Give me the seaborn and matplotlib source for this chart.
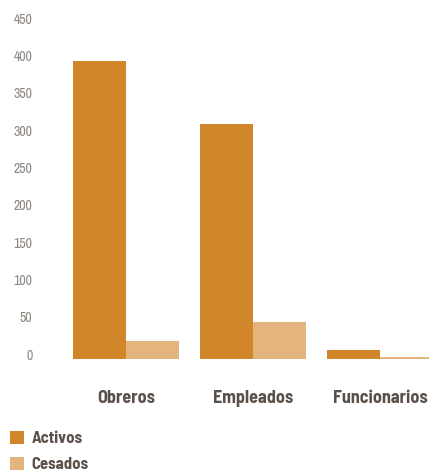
import matplotlib
matplotlib.use("Agg")
import matplotlib.pyplot as plt
import matplotlib.transforms as mtransforms
import seaborn as sns
import pandas as pd

# Personal por categoría y estado
categorias = ["Obreros", "Empleados", "Funcionarios"]
activos = [399, 315, 12]
cesados = [24, 50, 3]
estados = ["Activos", "Cesados"]
yticks = [0, 50, 100, 150, 200, 250, 300, 350, 400, 450]

df = pd.DataFrame({
    "Categoría": categorias * 2,
    "Estado": [estados[0]] * len(categorias) + [estados[1]] * len(categorias),
    "Personas": activos + cesados,
})

sns.set_theme(style="white")
plt.rcParams["font.family"] = ["Archivo Narrow", "Barlow Condensed", "DejaVu Sans"]
negrita = ["Barlow Semi Condensed", "Barlow Condensed", "DejaVu Sans"]

colores = {"Activos": "#D08629", "Cesados": "#E3B47D"}
texto = "#5C514A"
gris = "#8C8680"

W, H = 429, 473
fig = plt.figure(figsize=(W / 100, H / 100), dpi=100)
# axes span: categories centred at 126, 253, 380 px; baseline at 359 px, 450 at 23 px
left, right = 62.5, 443.5
bottom, top = 359, 23
ax = fig.add_axes([left / W, (H - bottom) / H, (right - left) / W, (bottom - top) / H])

sns.barplot(data=df, x="Categoría", y="Personas", hue="Estado", palette=colores,
            width=0.835, saturation=1, linewidth=0, ax=ax, legend=True)

ax.set_xlim(-0.5, 2.5)
ax.set_ylim(0, 450)
ax.set_yticks(yticks)
ax.set_yticklabels([str(v) for v in yticks])
ax.set_xlabel("")
ax.set_ylabel("")
for s in ax.spines.values():
    s.set_visible(False)
ax.tick_params(axis="y", length=0, pad=21.6, labelsize=10, labelcolor=gris)
ax.tick_params(axis="x", length=0, pad=22, labelsize=13, labelcolor=texto)
for lab in ax.get_xticklabels():
    lab.set_fontweight("bold")
    lab.set_family(negrita)
# lift the value labels slightly above their reference lines
off = mtransforms.ScaledTranslation(0, 4.7 / 100, fig.dpi_scale_trans)
for lab in ax.get_yticklabels():
    lab.set_transform(lab.get_transform() + off)

handles, labels = ax.get_legend_handles_labels()
ax.get_legend().remove()
leg = fig.legend(handles, labels, loc="upper left", bbox_to_anchor=(3 / W, 1 - 424 / H),
                 frameon=False, prop={"family": negrita, "weight": "bold", "size": 12},
                 handlelength=0.85, handleheight=0.85,
                 handletextpad=0.45, labelspacing=0.65, borderaxespad=0)
for t in leg.get_texts():
    t.set_color(texto)

fig.savefig("out.png", dpi=100)
